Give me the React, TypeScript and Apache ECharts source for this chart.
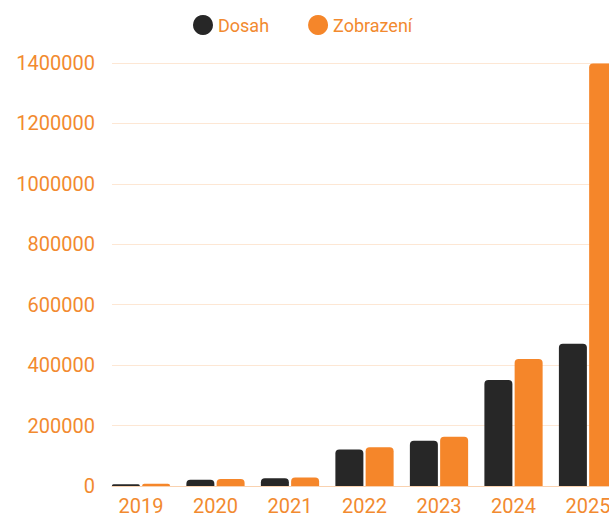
import React, { useEffect, useRef } from "react";
import * as echarts from "echarts";

const years = ["2019", "2020", "2021", "2022", "2023", "2024", "2025"];
const dosah = [5500, 20500, 26000, 120500, 150000, 350500, 470500];
const zobrazeni = [7500, 23000, 28500, 128000, 163000, 420000, 1398000];
const yTicks = { min: 0, max: 1400000, interval: 200000 };

const ORANGE = "#f5862a";
const DARK = "#272727";
const LABEL = "#f28a2f";

export default function App() {
  const ref = useRef<HTMLDivElement>(null);
  useEffect(() => {
    if (!ref.current) return;
    const chart = echarts.init(ref.current, undefined, { renderer: "svg" });
    const font = "Roboto";
    chart.setOption({
      animation: false,
      textStyle: { fontFamily: font },
      legend: {
        top: 2,
        left: 180,
        icon: "circle",
        itemWidth: 20,
        itemHeight: 20,
        itemGap: 39,
        textStyle: { color: LABEL, fontSize: 18, fontFamily: font },
        data: ["Dosah", "Zobrazení"],
      },
      grid: { left: 104, right: 11, top: 55, bottom: 27, containLabel: false },
      xAxis: {
        type: "value",
        min: -0.389,
        max: 6.389,
        minInterval: 1,
        maxInterval: 1,
        splitLine: { show: false },
        axisTick: { show: false },
        axisLine: { show: true, lineStyle: { color: "#f9d2b0", width: 1 } },
        axisLabel: {
          color: LABEL,
          fontSize: 20,
          lineHeight: 18,
          fontFamily: font,
          margin: 11,
          showMinLabel: false,
          showMaxLabel: false,
          formatter: (v: number) => {
            const r = Math.round(v);
            return Math.abs(v - r) < 1e-6 && years[r] ? years[r] : "";
          },
        },
      },
      yAxis: {
        type: "value",
        min: yTicks.min,
        max: yTicks.max,
        interval: yTicks.interval,
        axisLine: { show: false },
        axisTick: { show: false },
        splitLine: { lineStyle: { color: "#fde7d4", width: 1 } },
        axisLabel: {
          color: LABEL,
          fontSize: 20,
          fontFamily: font,
          margin: 17,
          formatter: (v: number) => String(v),
        },
      },
      series: [
        {
          name: "Dosah",
          type: "bar",
          barWidth: 28,
          barGap: "8%",
          itemStyle: { color: DARK, borderRadius: [4, 4, 0, 0] },
          data: dosah.map((v, i) => [i, v]),
        },
        {
          name: "Zobrazení",
          type: "bar",
          barWidth: 28,
          barGap: "8%",
          itemStyle: { color: ORANGE, borderRadius: [4, 4, 0, 0] },
          data: zobrazeni.map((v, i) => [i, v]),
        },
      ],
    });
    return () => chart.dispose();
  }, []);
  return (
    <div
      style={{
        position: "fixed",
        left: 0,
        top: 0,
        width: 609,
        height: 516,
        overflow: "hidden",
        background: "#fff",
      }}
    >
      <div
        ref={ref}
        style={{ position: "absolute", left: 8, top: 8, width: 620, height: 508 }}
      />
    </div>
  );
}
